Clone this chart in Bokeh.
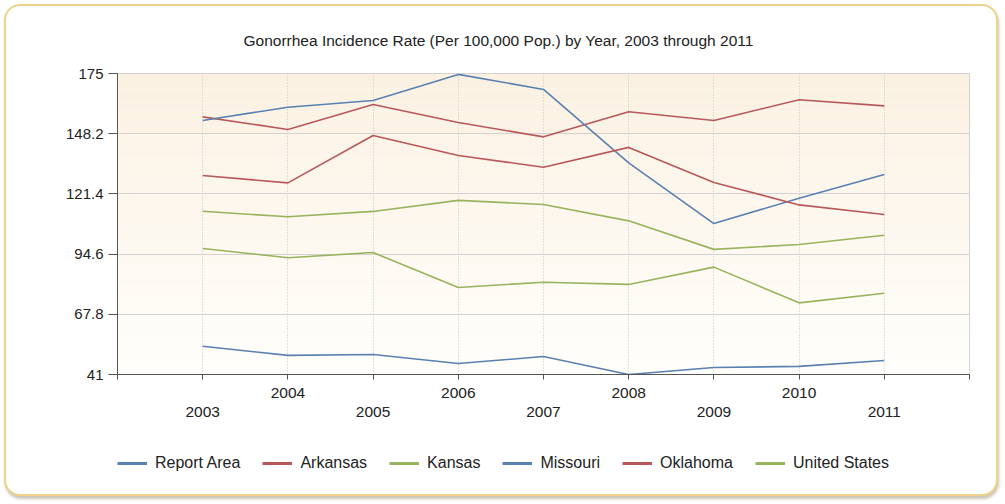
from bokeh.plotting import figure
from bokeh.layouts import column
from bokeh.models import (Range1d, FixedTicker, LinearAxis, CustomJSTickFormatter,
                          Legend, LegendItem, BoxAnnotation)
from bokeh.embed import file_html
from bokeh.resources import INLINE

# ---------------- data ----------------
years = [2003, 2004, 2005, 2006, 2007, 2008, 2009, 2010, 2011]
report_area = [53.6, 49.5, 49.9, 45.9, 49.0, 41.0, 44.1, 44.6, 47.2]
arkansas = [155.7, 150.1, 161.2, 153.2, 146.8, 158.0, 154.1, 163.3, 160.6]
kansas = [97.1, 93.0, 95.3, 79.7, 82.1, 81.1, 88.8, 72.9, 77.2]
missouri = [154.1, 160.0, 163.0, 174.6, 167.9, 135.2, 108.2, 119.5, 130.0]
oklahoma = [129.6, 126.3, 147.4, 138.5, 133.3, 142.1, 126.5, 116.5, 112.2]
united_states = [113.7, 111.2, 113.6, 118.5, 116.7, 109.4, 96.7, 98.9, 103.0]
y_ticks = [41, 67.8, 94.6, 121.4, 148.2, 175]
title_text = "Gonorrhea Incidence Rate (Per 100,000 Pop.) by Year, 2003 through 2011"

series = [
    ("Report Area", report_area, "#5a80b0"),
    ("Arkansas", arkansas, "#b9585a"),
    ("Kansas", kansas, "#98b35e"),
    ("Missouri", missouri, "#5a80b0"),
    ("Oklahoma", oklahoma, "#b9585a"),
    ("United States", united_states, "#98b35e"),
]

FONT = "Liberation Sans"
TXT = "#222222"

ymin, ymax = y_ticks[0], y_ticks[-1]
xmin, xmax = years[0] - 1, years[-1] + 1

p = figure(width=990, height=428, x_range=Range1d(xmin, xmax), y_range=Range1d(ymin, ymax),
           output_backend="svg", toolbar_location=None,
           min_border_left=111, min_border_right=27, min_border_top=67, min_border_bottom=60)
p.border_fill_color = None
p.background_fill_color = "white"

# gradient background bands
n_bands = 40
top_c = (251, 241, 226)
bot_c = (255, 254, 251)
for i in range(n_bands):
    f = i / (n_bands - 1)
    c = tuple(int(round(top_c[k] + (bot_c[k] - top_c[k]) * f)) for k in range(3))
    t = ymax - (ymax - ymin) * i / n_bands
    b = ymax - (ymax - ymin) * (i + 1) / n_bands
    band = BoxAnnotation(top=t, bottom=b, fill_color="#%02x%02x%02x" % c, fill_alpha=1.0,
                         line_color=None, level="image")
    p.add_layout(band)

# title
p.title.text = title_text
p.title.align = "left"
p.title.offset = 126
p.title.standoff = 47
p.title.vertical_align = "middle"
p.title.text_font = FONT
p.title.text_font_size = "15.5px"
p.title.text_font_style = "normal"
p.title.text_color = TXT

# grid
p.ygrid.ticker = FixedTicker(ticks=y_ticks)
p.ygrid.grid_line_color = "#d2d2d2"
p.xgrid.ticker = FixedTicker(ticks=years)
p.xgrid.grid_line_color = "#c4c4c4"
p.xgrid.grid_line_dash = "1 2"
p.outline_line_color = "#c8c8c8"

# y axis
ya = p.yaxis[0]
ya.ticker = FixedTicker(ticks=y_ticks)
ya.formatter = CustomJSTickFormatter(code="return (Math.round(tick*10)/10).toString();")
ya.axis_line_color = "#555555"
ya.major_tick_line_color = "#555555"
ya.major_tick_in = 0
ya.major_tick_out = 9
ya.minor_tick_line_color = None
ya.major_label_standoff = 5
ya.major_label_text_font = FONT
ya.major_label_text_font_size = "15px"
ya.major_label_text_color = TXT

# x axis (even years, upper row)
xa = p.xaxis[0]
xa.ticker = FixedTicker(ticks=[xmin] + years + [xmax])
even_code = "return (tick % 2 == 0 && tick > " + str(xmin) + " && tick < " + str(xmax) + ") ? String(tick) : '';"
xa.formatter = CustomJSTickFormatter(code=even_code)
xa.axis_line_color = "#555555"
xa.major_tick_line_color = "#555555"
xa.major_tick_in = 0
xa.major_tick_out = 5
xa.minor_tick_line_color = None
xa.major_label_standoff = 8
xa.major_label_text_font = FONT
xa.major_label_text_font_size = "15.5px"
xa.major_label_text_color = TXT

# x axis (odd years, lower row)
xa2 = LinearAxis(ticker=FixedTicker(ticks=years),
                 formatter=CustomJSTickFormatter(code="return (tick % 2 == 1) ? String(tick) : '';"))
xa2.axis_line_color = None
xa2.major_tick_line_color = None
xa2.major_tick_in = 0
xa2.major_tick_out = 0
xa2.minor_tick_line_color = None
xa2.major_label_standoff = 6
xa2.major_label_text_font = FONT
xa2.major_label_text_font_size = "15.5px"
xa2.major_label_text_color = TXT
p.add_layout(xa2, "below")

# lines
for name, vals, col in series:
    p.line(years, vals, line_color=col, line_width=1.6)

# legend strip (separate canvas below the chart; its frame is aligned with the chart's frame)
# the same series are drawn there, but its y range lies outside the data so only the legend shows
lf = figure(width=990, height=60, x_range=Range1d(xmin, xmax), y_range=Range1d(-2, -1),
            output_backend="svg", toolbar_location=None,
            x_axis_location=None, y_axis_location=None, min_border=0)
lf.grid.visible = False
lf.outline_line_color = None
lf.border_fill_color = None
lf.background_fill_color = None
items = []
for name, vals, col in series:
    r = lf.line(years, vals, line_color=col, line_width=3)
    items.append(LegendItem(label=name, renderers=[r]))
legend = Legend(items=items, orientation="horizontal", location=(0, 21),
                glyph_width=30, glyph_height=20, label_standoff=8, spacing=22,
                padding=0, margin=0, border_line_color=None, background_fill_alpha=0,
                label_text_font=FONT, label_text_font_size="16px", label_text_color=TXT)
lf.add_layout(legend, "center")

layout = column(p, lf, spacing=0)
layout.styles = {"border": "2px solid #EED28A", "border-radius": "16px",
                 "background-color": "white", "margin": "4px 0 0 4px",
                 "box-shadow": "1px 3px 3px rgba(110, 90, 50, 0.35)"}

open("out.html", "w").write(file_html(layout, INLINE))
